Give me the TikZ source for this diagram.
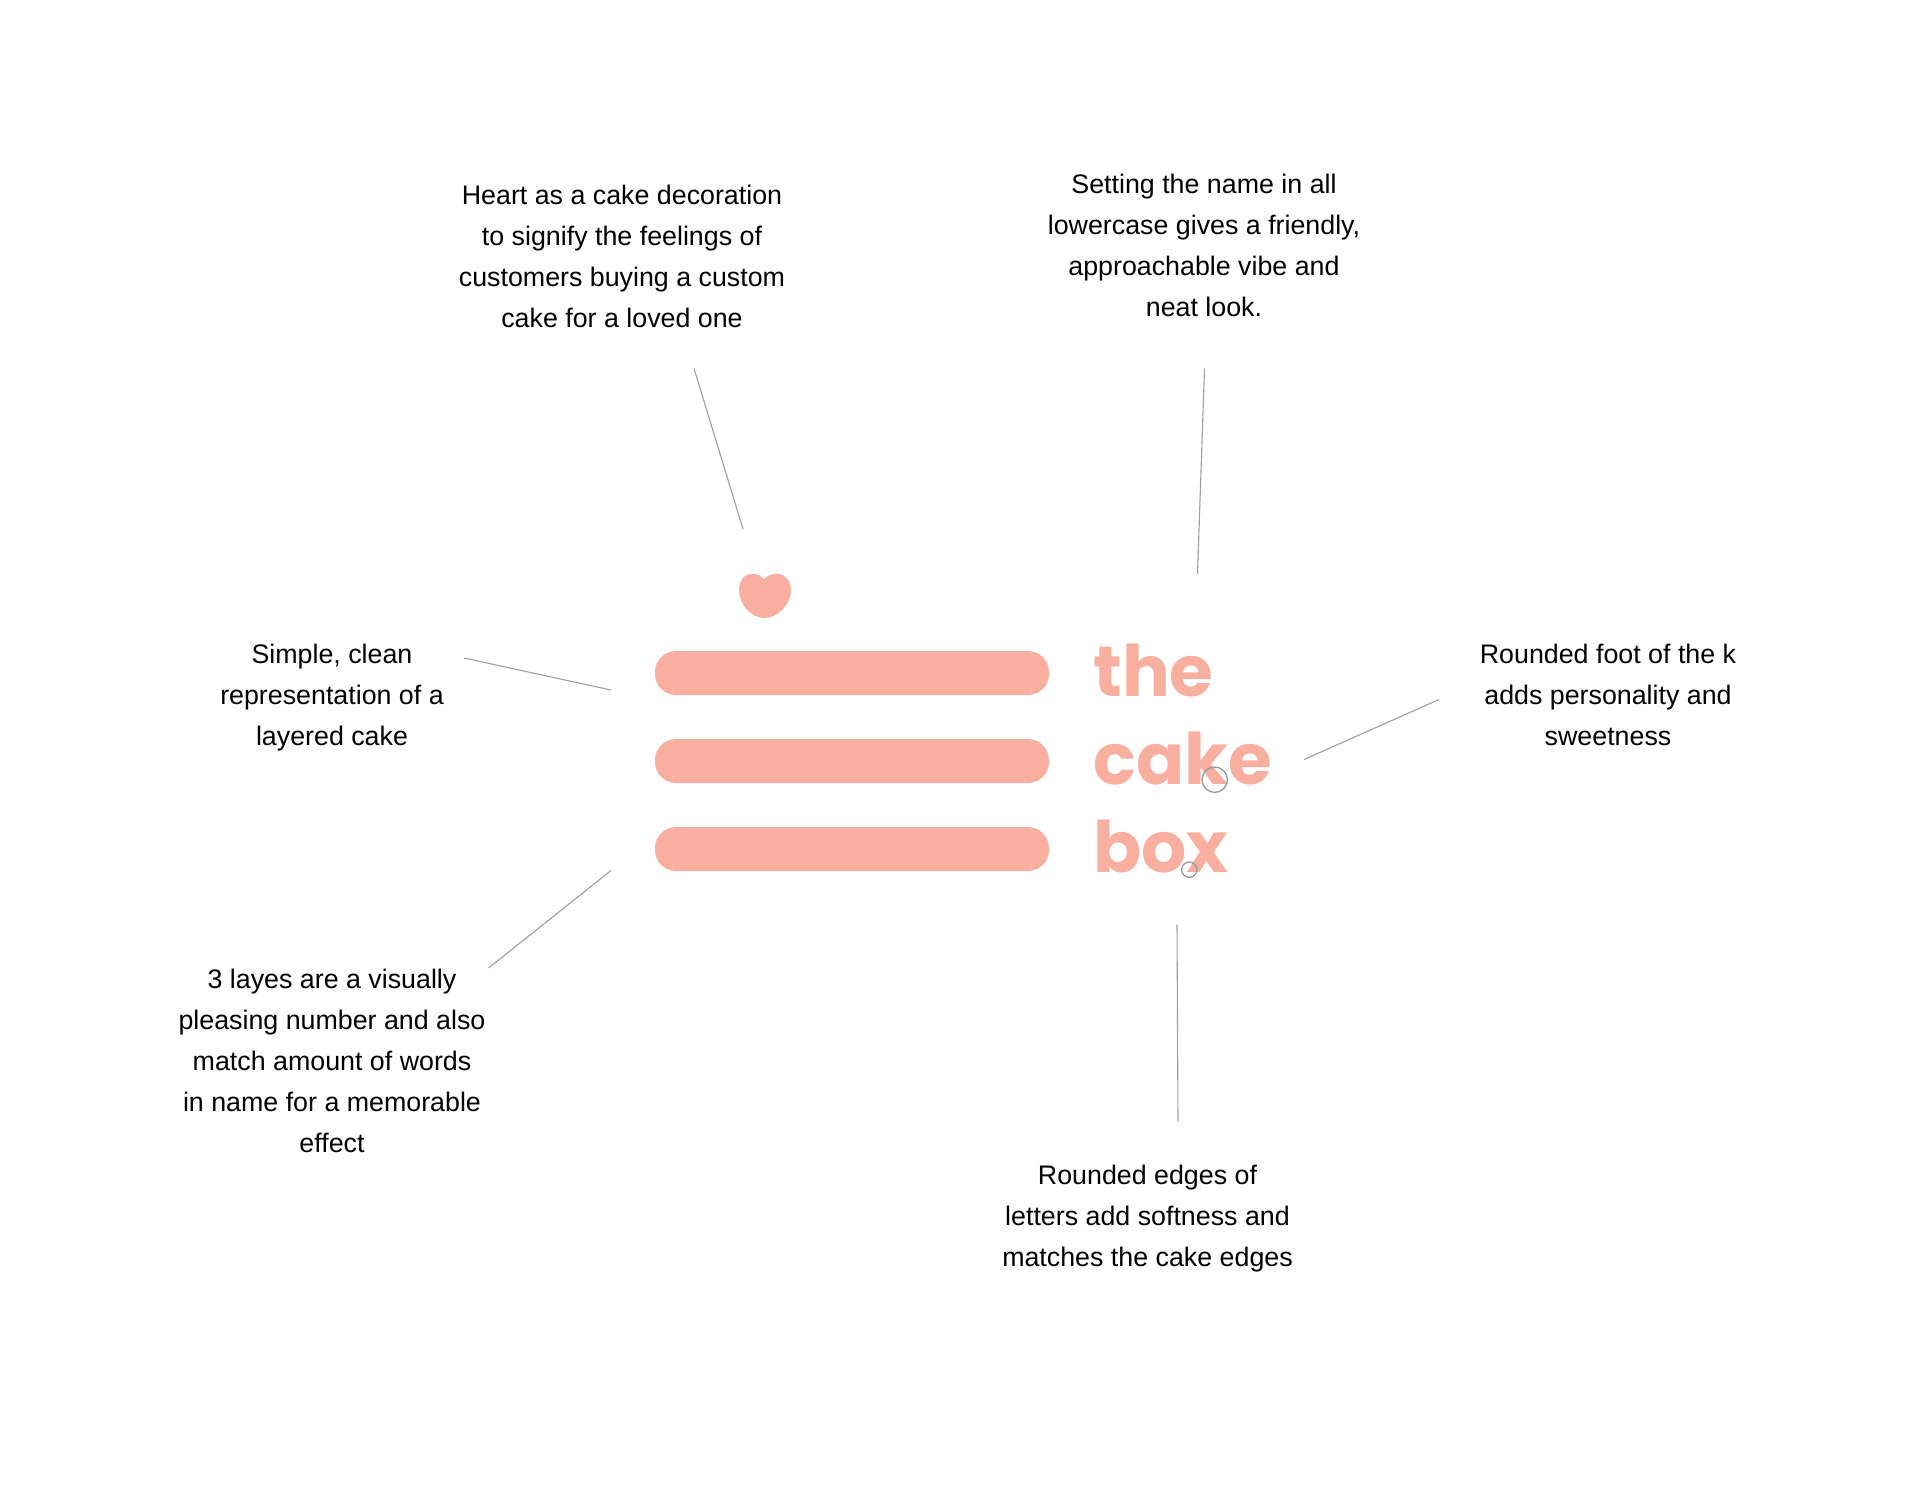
\documentclass[tikz,border=0pt]{standalone}
\usepackage{fontspec}
\setmainfont{Liberation Sans}
\newfontfamily\logofont{Poppins}
\definecolor{cakepink}{HTML}{F9AFA0}
\definecolor{leadgray}{HTML}{9E9E9E}
\definecolor{spotgray}{HTML}{94989C}
\tikzset{
  note/.style={align=center,text=black,inner sep=0pt,font=\fontsize{26.8}{41}\selectfont},
  lead/.style={draw=leadgray,line width=1.1pt},
  layerbar/.style={fill=cakepink,rounded corners=21pt,minimum width=394pt,minimum height=44pt,inner sep=0pt},
  logoword/.style={anchor=base west,text=cakepink,inner sep=0pt,font=\logofont\bfseries\fontsize{71}{71}\selectfont},
  spot/.style={draw=spotgray,line width=1.3pt}
}
\begin{document}
\begin{tikzpicture}[x=1pt,y=-1pt]
\useasboundingbox (0,0) rectangle (1920,1484);
% cake
\node[layerbar] (layerone) at (852,673) {};
\node[layerbar] (layertwo) at (852,761) {};
\node[layerbar] (layerthree) at (852,849) {};
\fill[cakepink] (764,579) .. controls (760,575) and (757,574) .. (751.5,574) .. controls (744,574) and (739,581) .. (739,590) .. controls (739,604) and (751,618) .. (764.5,618) .. controls (778,618) and (791,604) .. (791,590) .. controls (791,581) and (785,574) .. (777.5,574) .. controls (772,574) and (768,575) .. (764,579) -- cycle;
% name
\node[logoword] (wordthe) at (1093,696) {the};
\node[logoword] (wordcake) at (1093,784) {cake};
\node[logoword] (wordbox) at (1093,872) {box};
\draw[spot] (1214.7,779.7) circle [radius=12.7];
\draw[spot] (1189.3,869.7) circle [radius=7.7];
% notes
\node[note] (noteheart) at (622,256.8) {Heart as a cake decoration\\to signify the feelings of\\customers buying a custom\\cake for a loved one};
\node[note] (notename) at (1204,245.8) {Setting the name in all\\lowercase gives a friendly,\\approachable vibe and\\neat look.};
\node[note] (notesimple) at (332,698) {Simple, clean\\representation of a\\layered cake};
\node[note] (notefoot) at (1608,694.5) {Rounded foot of the k\\adds personality and\\sweetness};
\node[note] (notelayers) at (332,1060.5) {3 layes are a visually\\pleasing number and also\\match amount of words\\in name for a memorable\\effect};
\node[note] (noteedges) at (1147.5,1218.5) {Rounded edges of\\letters add softness and\\matches the cake edges};
% leaders
\coordinate (heartA) at (694,368.5);
\coordinate (heartB) at (743,529);
\coordinate (nameA) at (1204.5,368.5);
\coordinate (nameB) at (1197.5,574);
\coordinate (simpleA) at (464,658);
\coordinate (simpleB) at (611,690);
\coordinate (footA) at (1439,699.5);
\coordinate (footB) at (1304,759.5);
\coordinate (layersA) at (488.5,968);
\coordinate (layersB) at (611,870.5);
\coordinate (edgesA) at (1178,1121.5);
\coordinate (edgesB) at (1177,924.5);
\draw[lead] (heartA) -- (heartB);
\draw[lead] (nameA) -- (nameB);
\draw[lead] (simpleA) -- (simpleB);
\draw[lead] (footA) -- (footB);
\draw[lead] (layersA) -- (layersB);
\draw[lead] (edgesA) -- (edgesB);
\end{tikzpicture}
\end{document}
